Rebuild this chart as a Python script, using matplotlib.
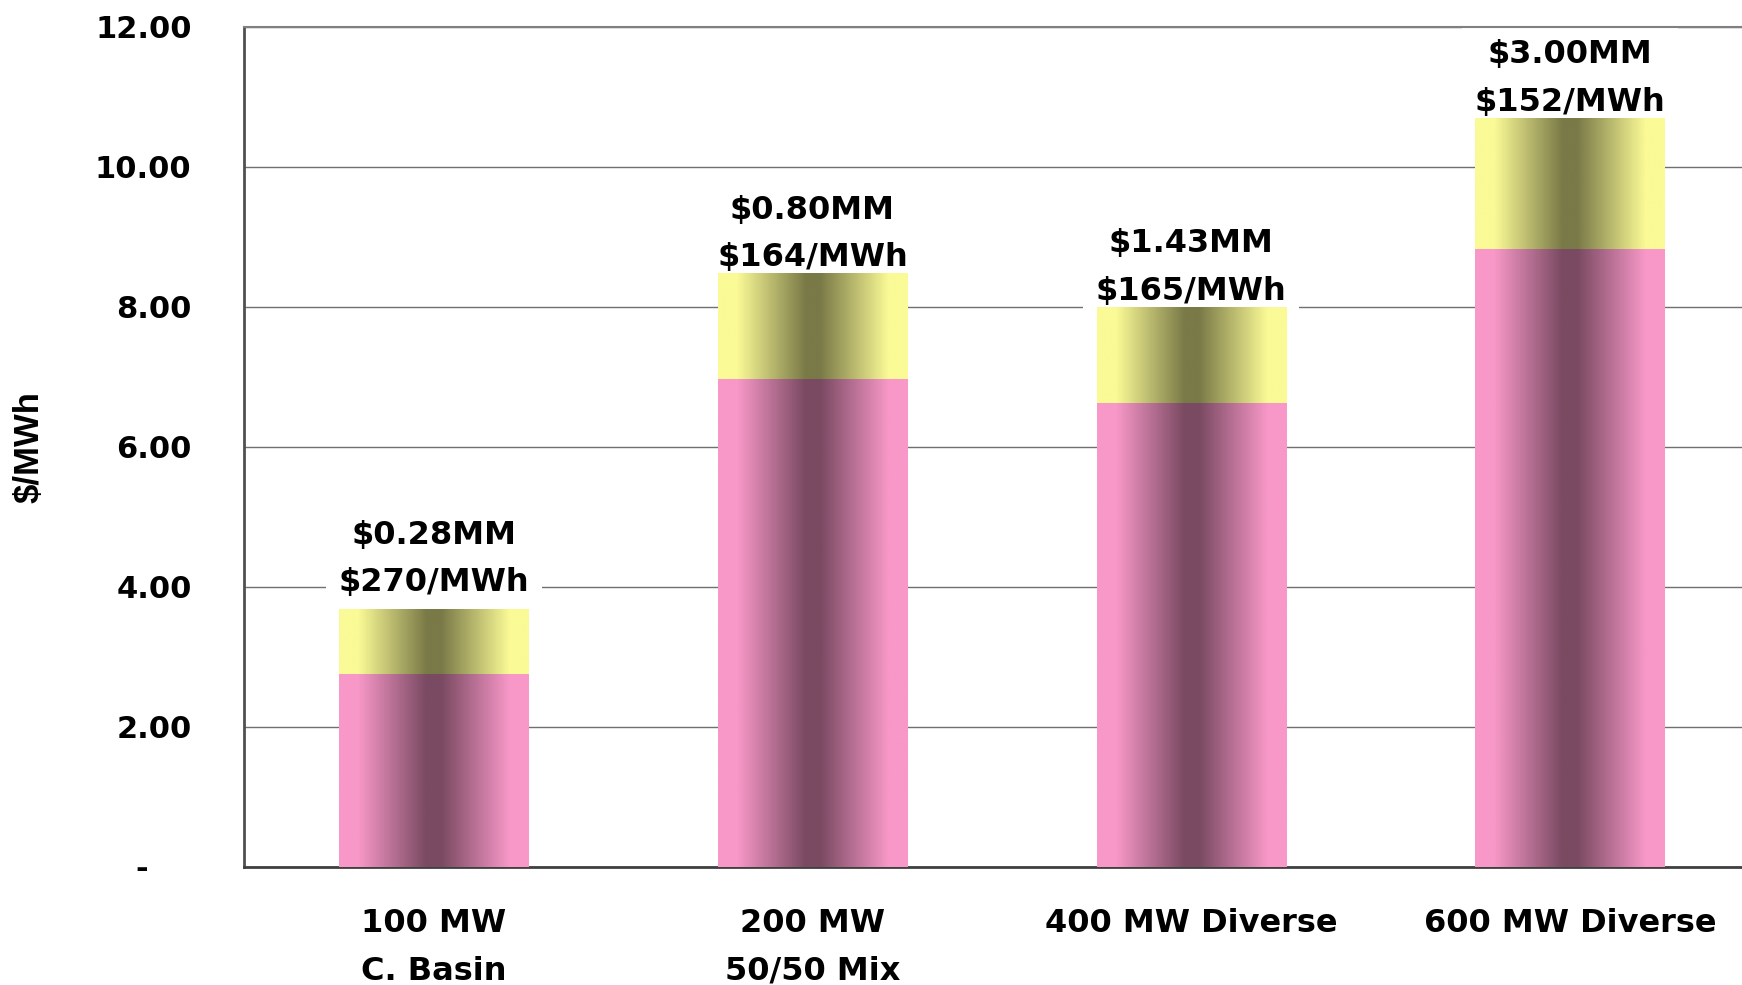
import numpy as np
import matplotlib
matplotlib.use("Agg")
import matplotlib.pyplot as plt
from matplotlib import font_manager
from matplotlib.colors import to_rgb
from matplotlib.ticker import FuncFormatter

# data
categories = ["100 MW\nC. Basin", "200 MW\n50/50 Mix", "400 MW Diverse", "600 MW Diverse"]
base_cost = [2.75, 6.97, 6.62, 8.83]    # pink part, $/MWh
added_cost = [0.93, 1.51, 1.38, 1.87]   # yellow part stacked on top
total_mm = ["$0.28MM", "$0.80MM", "$1.43MM", "$3.00MM"]
per_mwh = ["$270/MWh", "$164/MWh", "$165/MWh", "$152/MWh"]
y_ticks = [0, 2, 4, 6, 8, 10, 12]

PINK = ("#F898C8", "#7A4A62")     # edge, centre
YELLOW = ("#FAFA96", "#7A7A48")
LABEL_LIFT = [8, 0, 0, 0]         # points, first label sits a bit higher


def shade(ax, patch, edge, centre, n=256):
    # light at the sides, dark in the middle (cylinder look)
    u = np.linspace(0, 1, n)
    d = np.abs(2 * u - 1)
    t = np.clip((0.8 - d) / 0.72, 0, 1)
    e, c = np.array(to_rgb(edge)), np.array(to_rgb(centre))
    img = e + (c - e) * t[:, None]
    x0, y0 = patch.get_x(), patch.get_y()
    im = ax.imshow(img[None, :, :],
                   extent=(x0, x0 + patch.get_width(), y0, y0 + patch.get_height()),
                   aspect="auto", interpolation="bilinear", zorder=3.1)
    im.set_clip_path(patch)


def main():
    plt.rcParams["font.family"] = ["DejaVu Sans"]
    names = {f.name for f in font_manager.fontManager.ttflist}
    narrow = "Liberation Sans Narrow" if "Liberation Sans Narrow" in names else "Liberation Sans"

    fig = plt.figure(figsize=(17.42, 9.85), dpi=100)
    ax = fig.add_axes([0.1403, 0.1202, 0.8696, 0.8527])

    x = np.arange(len(categories))
    bottom_bars = ax.bar(x, base_cost, width=0.5, color=PINK[0], zorder=3)
    top_bars = ax.bar(x, added_cost, width=0.5, bottom=base_cost, color=YELLOW[0], zorder=3)
    for p in bottom_bars:
        shade(ax, p, *PINK)
    for p in top_bars:
        shade(ax, p, *YELLOW)

    totals = np.array(base_cost) + np.array(added_cost)
    for xi, top, mm, rate, lift in zip(x, totals, total_mm, per_mwh, LABEL_LIFT):
        ax.annotate(mm + "\n" + rate, xy=(xi, top), xytext=(0, lift),
                    textcoords="offset points", ha="center", va="bottom",
                    fontsize=23, fontweight="bold", linespacing=1.68,
                    parse_math=False, zorder=2.5,
                    bbox=dict(boxstyle="square,pad=0.4", fc="white", ec="none"))

    ax.set_xlim(-0.5, 3.5)
    ax.set_ylim(0, 12)
    ax.set_yticks(y_ticks)
    ax.yaxis.set_major_formatter(FuncFormatter(lambda v, pos: "-    " if v == 0 else f"{v:.2f}"))
    ax.set_xticks(x)
    ax.set_xticklabels(categories)
    for lab in ax.get_xticklabels():
        lab.set_linespacing(1.68)

    ax.tick_params(axis="y", length=0, pad=38, labelsize=22)
    ax.tick_params(axis="x", length=0, pad=30, labelsize=23)
    for lab in ax.get_xticklabels() + ax.get_yticklabels():
        lab.set_fontweight("bold")

    ax.set_axisbelow(True)
    ax.yaxis.grid(True, color="#707070", linewidth=1.0)
    ax.spines["top"].set_color("#808080")
    ax.spines["top"].set_linewidth(1.5)
    ax.spines["left"].set_color("#505050")
    ax.spines["left"].set_linewidth(2)
    ax.spines["bottom"].set_color("#404040")
    ax.spines["bottom"].set_linewidth(2)
    ax.spines["right"].set_visible(False)

    ax.set_ylabel("$/MWh", family=narrow, fontsize=25, fontweight="bold")
    ax.yaxis.set_label_coords(-0.131, 0.5)

    fig.savefig("out.png", dpi=100)


if __name__ == "__main__":
    main()
